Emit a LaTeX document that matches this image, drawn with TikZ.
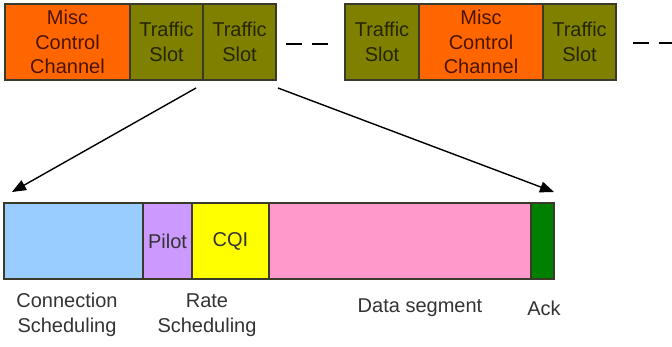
\documentclass[tikz,border=0pt]{standalone}
\usepackage{fontspec}
\setmainfont{Liberation Sans}
\usetikzlibrary{arrows.meta}
\definecolor{misc}{HTML}{FF6600}
\definecolor{traffic}{HTML}{7F7F00}
\definecolor{miscfg}{HTML}{4A1400}
\definecolor{trafficfg}{HTML}{262600}
\definecolor{bordercol}{HTML}{3A3A2A}
\definecolor{cblue}{HTML}{99CCFF}
\definecolor{cpilot}{HTML}{CC99FF}
\definecolor{cyel}{HTML}{FFFF00}
\definecolor{cpink}{HTML}{FF99CC}
\definecolor{cgreen}{HTML}{008000}
\definecolor{labelfg}{HTML}{333333}
\begin{document}
\begin{tikzpicture}[x=1pt,y=-1pt,
  txt/.style={font=\fontsize{20}{24.5}\selectfont, align=center},
  cell/.style={draw=bordercol, line width=1.3pt, inner sep=0pt, minimum height=76pt, txt},
  misccell/.style={cell, fill=misc, text=miscfg},
  trafcell/.style={cell, fill=traffic, text=trafficfg},
  seg/.style={cell, text=labelfg},
  lbl/.style={txt, text=labelfg, inner sep=0pt},
  dashline/.style={draw=black, line width=1.5pt, dash pattern=on 16pt off 10pt},
  zoomarrow/.style={draw=black, line width=1.4pt, -{Triangle[length=14pt,width=11pt]}}]
\useasboundingbox (0,0) rectangle (672,346);
% top row
\node[misccell, minimum width=125pt] (m1) at (67.5,42) {Misc\\Control\\Channel};
\node[trafcell, minimum width=73pt] (t1) at (166.5,42) {Traffic\\Slot};
\node[trafcell, minimum width=73pt] (t2) at (239.5,42) {Traffic\\Slot};
\node[trafcell, minimum width=74pt] (t3) at (382,42) {Traffic\\Slot};
\node[misccell, minimum width=124pt] (m2) at (481,42) {Misc\\Control\\Channel};
\node[trafcell, minimum width=73pt] (t4) at (579.5,42) {Traffic\\Slot};
\coordinate (d1a) at (286,44);
\coordinate (d1b) at (328,44);
\coordinate (d2a) at (633,43);
\coordinate (d2b) at (675,43);
\draw[dashline] (d1a) -- (d1b);
\draw[dashline] (d2a) -- (d2b);
% bottom bar
\node[seg, fill=cblue, minimum width=139pt] (cs) at (73.5,241) {};
\node[seg, fill=cpilot, minimum width=49pt] (pilot) at (167.5,241) {Pilot};
\node[seg, fill=cyel, minimum width=77pt] (cqi) at (230.5,241) {CQI};
\node[seg, fill=cpink, minimum width=262pt] (data) at (400,241) {};
\node[seg, fill=cgreen, minimum width=23pt] (ack) at (542.5,241) {};
% arrows
\coordinate (a1s) at (196,88);
\coordinate (a1e) at (12,192);
\coordinate (a2s) at (278,88);
\coordinate (a2e) at (554,192);
\draw[zoomarrow] (a1s) -- (a1e);
\draw[zoomarrow] (a2s) -- (a2e);
% labels
\node[lbl] (l1) at (67,315) {Connection\\Scheduling};
\node[lbl] (l2) at (207,315) {Rate\\Scheduling};
\node[lbl] (l3) at (420,308) {Data segment};
\node[lbl] (l4) at (544,308) {Ack};
\end{tikzpicture}
\end{document}
